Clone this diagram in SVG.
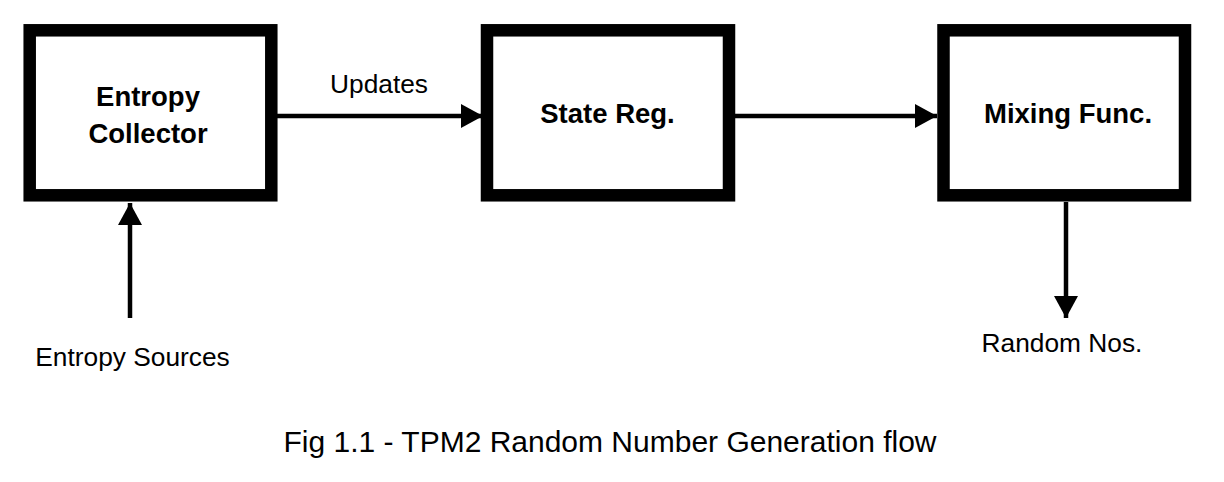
<svg xmlns="http://www.w3.org/2000/svg" width="1224" height="482" viewBox="0 0 1224 482">
<style>
.box{fill:#fff;stroke:#000;stroke-width:12.5}
.title{font-family:"Liberation Sans",Arial,sans-serif;font-weight:bold;font-size:27.5px;fill:#000;text-anchor:middle}
.lbl{font-family:"Liberation Sans",Arial,sans-serif;font-size:26.3px;fill:#000;text-anchor:middle}
.cap{font-family:"Liberation Sans",Arial,sans-serif;font-size:30px;fill:#000;text-anchor:middle}
.edge{stroke:#000;stroke-width:4.5;fill:none}
</style>
<defs>
<marker id="ah" markerUnits="userSpaceOnUse" viewBox="0 0 22 24" refX="22" refY="12" markerWidth="22" markerHeight="24" orient="auto">
<path d="M0,0 L22,12 L0,24 Z" fill="#000"/>
</marker>
</defs>
<rect width="1224" height="482" fill="#fff"/>
<g id="entropy-collector">
<rect class="box" x="29.7" y="30.3" width="241.6" height="165"/>
<text class="title" x="148" y="106">Entropy</text>
<text class="title" x="148" y="142.7">Collector</text>
</g>
<g id="state-reg">
<rect class="box" x="487" y="30.3" width="242" height="165"/>
<text class="title" x="607.5" y="123.3">State Reg.</text>
</g>
<g id="mixing-func">
<rect class="box" x="943.5" y="30.3" width="241.5" height="165"/>
<text class="title" x="1068" y="123">Mixing Func.</text>
</g>
<g id="connectors">
<line class="edge" x1="277" y1="116" x2="483" y2="116" marker-end="url(#ah)"/>
<line class="edge" x1="735" y1="116" x2="937" y2="116" marker-end="url(#ah)"/>
<line class="edge" x1="130" y1="318" x2="130" y2="203" marker-end="url(#ah)"/>
<line class="edge" x1="1066" y1="202" x2="1066" y2="318" marker-end="url(#ah)"/>
</g>
<text class="lbl" x="379" y="92.7">Updates</text>
<text class="lbl" x="132.5" y="366">Entropy Sources</text>
<text class="lbl" x="1062" y="351.7">Random Nos.</text>
<text class="cap" x="610" y="452">Fig 1.1 - TPM2 Random Number Generation flow</text>
</svg>
